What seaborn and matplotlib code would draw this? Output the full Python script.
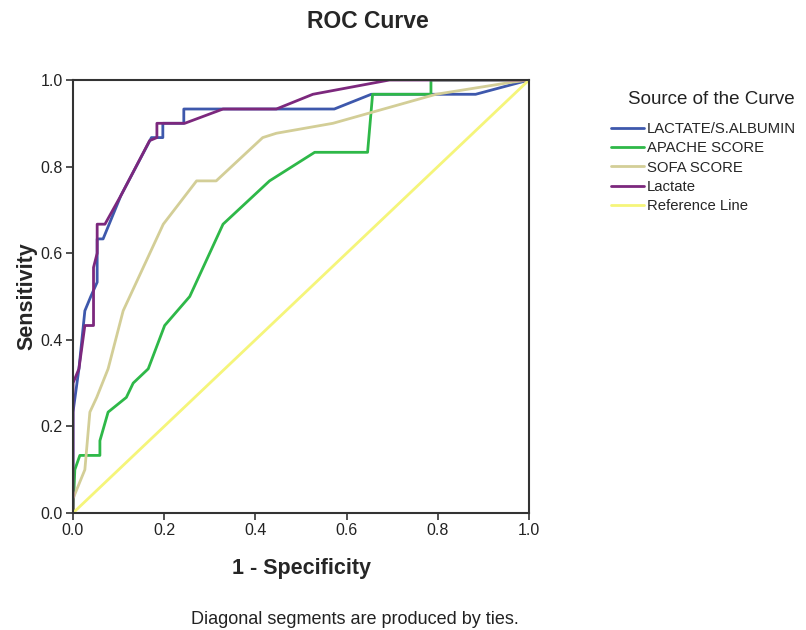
import matplotlib
matplotlib.use("Agg")
import matplotlib.pyplot as plt
import seaborn as sns
import pandas as pd

# ---- data ----
curve_names = ["LACTATE/S.ALBUMIN", "APACHE SCORE", "SOFA SCORE", "Lactate", "Reference Line"]

ratio_x = [0.0, 0.0, 0.013, 0.026, 0.039, 0.053, 0.053, 0.066, 0.105, 0.172, 0.197, 0.197,
           0.243, 0.243, 0.573, 0.654, 0.883, 1.0]
ratio_y = [0.0, 0.233, 0.333, 0.467, 0.5, 0.533, 0.633, 0.633, 0.733, 0.867, 0.867, 0.9,
           0.9, 0.933, 0.933, 0.967, 0.967, 1.0]

apache_x = [0.0, 0.004, 0.015, 0.059, 0.059, 0.077, 0.117, 0.132, 0.165, 0.201, 0.256, 0.329,
            0.431, 0.53, 0.646, 0.657, 0.785, 0.785, 1.0]
apache_y = [0.0, 0.1, 0.133, 0.133, 0.167, 0.233, 0.267, 0.3, 0.333, 0.433, 0.5, 0.667,
            0.767, 0.833, 0.833, 0.967, 0.967, 1.0, 1.0]

sofa_x = [0.0, 0.0, 0.026, 0.037, 0.052, 0.077, 0.11, 0.198, 0.271, 0.314, 0.416, 0.446,
          0.57, 0.796, 0.963, 1.0]
sofa_y = [0.0, 0.033, 0.1, 0.233, 0.267, 0.333, 0.467, 0.667, 0.767, 0.767, 0.867, 0.877,
          0.9, 0.967, 0.995, 1.0]

lact_x = [0.0, 0.0, 0.013, 0.026, 0.045, 0.045, 0.053, 0.053, 0.07, 0.105, 0.168, 0.184,
          0.184, 0.245, 0.329, 0.446, 0.526, 0.694, 1.0]
lact_y = [0.0, 0.3, 0.333, 0.433, 0.433, 0.567, 0.6, 0.667, 0.667, 0.733, 0.86, 0.867,
          0.9, 0.9, 0.933, 0.933, 0.967, 1.0, 1.0]

ref_x = [0.0, 1.0]
ref_y = [0.0, 1.0]

colors = ["#3E58AC", "#2EB848", "#D3CE97", "#7C287D", "#F5F57A"]

xticks = [0.0, 0.2, 0.4, 0.6, 0.8, 1.0]
yticks = [0.0, 0.2, 0.4, 0.6, 0.8, 1.0]
tick_labels = ["0.0", "0.2", "0.4", "0.6", "0.8", "1.0"]

# ---- build long-form table ----
frames = []
for name, xs, ys in zip(curve_names,
                        [ratio_x, apache_x, sofa_x, lact_x, ref_x],
                        [ratio_y, apache_y, sofa_y, lact_y, ref_y]):
    frames.append(pd.DataFrame({"fpr": xs, "tpr": ys, "curve": name}))
df = pd.concat(frames, ignore_index=True)

sns.set_theme(style="white")
plt.rcParams["font.family"] = ["Liberation Sans", "DejaVu Sans"]

fig = plt.figure(figsize=(8.06, 6.30), dpi=100)
ax = fig.add_axes([73 / 806, 1 - 513 / 630, 456 / 806, 433 / 630])

sns.lineplot(data=df, x="fpr", y="tpr", hue="curve", hue_order=curve_names,
             palette=colors, sort=False, estimator=None, linewidth=2.0, ax=ax)

ax.set_xlim(0, 1)
ax.set_ylim(0, 1)
ax.set_xticks(xticks)
ax.set_xticklabels(tick_labels, fontsize=11.5, color="#222222")
ax.set_yticks(yticks)
ax.set_yticklabels(tick_labels, fontsize=11.5, color="#222222")
ax.tick_params(axis="both", direction="out", length=5, width=1.2, color="#333333",
               bottom=True, left=True, pad=2.5)
for s in ax.spines.values():
    s.set_color("#333333")
    s.set_linewidth(1.5)

ax.set_xlabel("1 - Specificity", fontsize=15.5, fontweight="bold", labelpad=14)
ax.set_ylabel("Sensitivity", fontsize=15.5, fontweight="bold", labelpad=2)

fig.text(368 / 806, 1 - 22 / 630, "ROC Curve", ha="center", va="center",
         fontsize=16.5, fontweight="bold")
fig.text(355 / 806, 1 - 619 / 630, "Diagonal segments are produced by ties.",
         ha="center", va="center", fontsize=13, color="#222222")

ax.get_legend().remove()
handles, labels = ax.get_legend_handles_labels()
fig.text(711 / 806, 1 - 100 / 630, "Source of the Curve", ha="center", va="center",
         fontsize=13.5, color="#222222")
leg = fig.legend(handles, labels, loc="upper left",
                 bbox_to_anchor=(611 / 806, 1 - 122 / 630),
                 frameon=False, fontsize=10.7,
                 handlelength=2.2, handletextpad=0.2,
                 labelspacing=0.36, borderpad=0, borderaxespad=0)
for line in leg.get_lines():
    line.set_linewidth(2.0)

fig.savefig("out.png", dpi=100)
